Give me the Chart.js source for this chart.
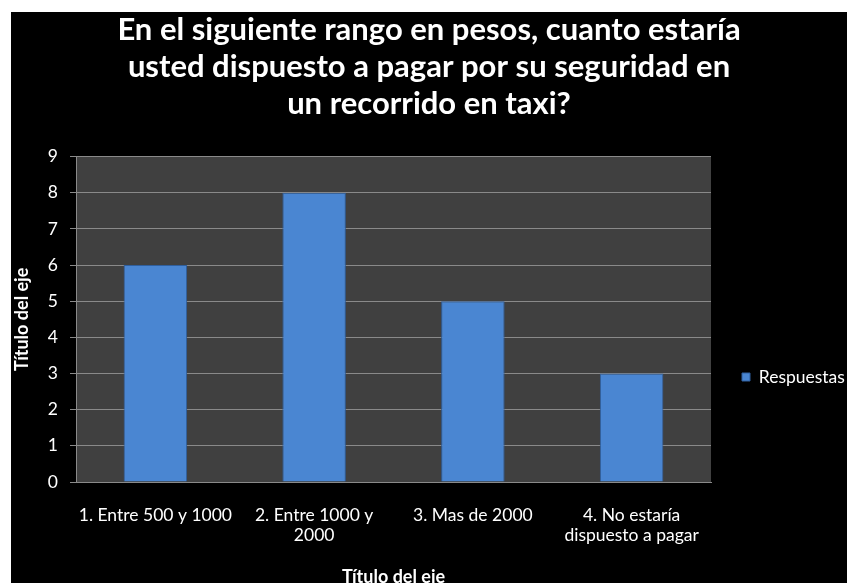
<!DOCTYPE html>
<html>
<head>
<meta charset="utf-8">
<script src="https://cdn.jsdelivr.net/npm/chart.js@4"></script>
<style>
    html, body { margin: 0; padding: 0; background: #ffffff; }
    #wrap { position: absolute; left: 11px; top: 12px; width: 836px; height: 571px; background: #000000; }
</style>
</head>
<body>
<div id="wrap"><canvas id="chart"></canvas></div>
<script>
    // Chart data
    const categories = [
        ['1. Entre 500 y 1000'],
        ['2. Entre 1000 y', '2000'],
        ['3. Mas de 2000'],
        ['4. No estaría', 'dispuesto a pagar']
    ];
    const respuestas = [6, 8, 5, 3];
    const yTicks = [0, 1, 2, 3, 4, 5, 6, 7, 8, 9];

    const FONT = 'Lato, "Open Sans", sans-serif';

    // Fill the plot area with dark grey
    const plotBackground = {
        id: 'plotBackground',
        beforeDraw(chart) {
            const a = chart.chartArea;
            const ctx = chart.ctx;
            ctx.save();
            ctx.fillStyle = '#404040';
            ctx.fillRect(a.left, a.top, a.right - a.left, a.bottom - a.top);
            ctx.restore();
        }
    };

    // Legend: fixed width on the right, item placed a bit below the middle
    const legendPlacement = {
        id: 'legendPlacement',
        beforeLayout(chart) {
            const lg = chart.legend;
            if (lg && !lg._fixedFit) {
                const fit = lg.fit;
                lg.fit = function() {
                    fit.call(this);
                    this.width = 136;
                };
                lg._fixedFit = true;
            }
        },
        afterLayout(chart) {
            const lg = chart.legend;
            if (!lg) return;
            const d = 365 - (lg.top + lg.bottom) / 2;
            lg.top += d;
            lg.bottom += d;
        }
    };

    function barFill(context) {
        const chart = context.chart;
        const el = context.element;
        if (!el || el.x === undefined || !el.width) return '#4a86d2';
        const x0 = el.x - el.width / 2;
        const g = chart.ctx.createLinearGradient(x0, 0, x0 + el.width, 0);
        g.addColorStop(0, '#3a6db3');
        g.addColorStop(0.08, '#4883cf');
        g.addColorStop(0.5, '#4b88d5');
        g.addColorStop(0.92, '#4883cf');
        g.addColorStop(1, '#3a6db3');
        return g;
    }

    const ctx = document.getElementById('chart').getContext('2d');
    new Chart(ctx, {
        type: 'bar',
        data: {
            labels: categories,
            datasets: [{
                label: 'Respuestas',
                data: respuestas,
                backgroundColor: barFill,
                borderColor: '#2f5f9e',
                borderWidth: 1,
                barPercentage: 0.4,
                categoryPercentage: 1
            }]
        },
        options: {
            responsive: true,
            maintainAspectRatio: false,
            animation: false,
            layout: { padding: 0 },
            plugins: {
                title: {
                    display: true,
                    text: [
                        'En el siguiente rango en pesos, cuanto estaría',
                        'usted dispuesto a pagar por su seguridad en',
                        'un recorrido en taxi?'
                    ],
                    color: '#ffffff',
                    font: { family: FONT, size: 31, weight: 'bold', lineHeight: 1.19 },
                    padding: { top: 0, bottom: 34 }
                },
                legend: {
                    position: 'right',
                    labels: {
                        color: '#ffffff',
                        font: { family: FONT, size: 17.5 },
                        boxWidth: 8,
                        boxHeight: 8,
                        padding: 31,
                        generateLabels: function(chart) {
                            return [{
                                text: 'Respuestas',
                                fillStyle: '#4a86d2',
                                strokeStyle: '#2f5f9e',
                                lineWidth: 1,
                                fontColor: '#ffffff',
                                datasetIndex: 0
                            }];
                        }
                    }
                },
                tooltip: { enabled: false }
            },
            scales: {
                x: {
                    afterFit: function(scale) { scale.height = 101; },
                    grid: { display: false, drawTicks: false },
                    border: { color: '#8a8a8a' },
                    ticks: {
                        color: '#ffffff',
                        font: { family: FONT, size: 17.5, lineHeight: 1.15 },
                        maxRotation: 0,
                        autoSkip: false,
                        padding: 23
                    },
                    title: {
                        display: true,
                        text: 'Título del eje',
                        color: '#ffffff',
                        font: { family: FONT, size: 18, weight: 'bold' },
                        padding: { top: 0, bottom: -5 }
                    }
                },
                y: {
                    min: 0,
                    max: 9,
                    afterFit: function(scale) { scale.width = 65; },
                    afterBuildTicks: function(scale) {
                        scale.ticks = yTicks.map(v => ({ value: v }));
                    },
                    grid: { color: '#8a8a8a', tickLength: 6, tickColor: '#8a8a8a' },
                    border: { color: '#8a8a8a' },
                    ticks: {
                        color: '#ffffff',
                        font: { family: FONT, size: 17.5 },
                        padding: 12
                    },
                    title: {
                        display: true,
                        text: 'Título del eje',
                        color: '#ffffff',
                        font: { family: FONT, size: 18, weight: 'bold' },
                        padding: { top: 0, bottom: 0 }
                    }
                }
            }
        },
        plugins: [plotBackground, legendPlacement]
    });
</script>
</body>
</html>
